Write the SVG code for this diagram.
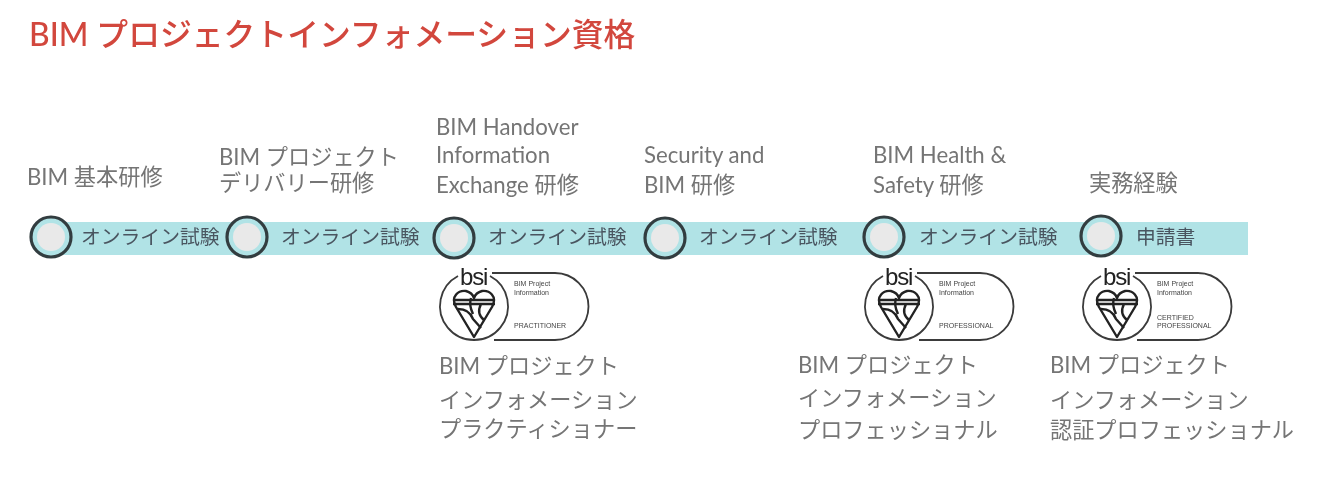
<svg xmlns="http://www.w3.org/2000/svg" xmlns:xlink="http://www.w3.org/1999/xlink" width="1317" height="484" viewBox="0 0 1317 484">
<style>
text{font-family:"Lato","Noto Sans CJK JP",sans-serif}
.t{font-size:22.2px;fill:#747474}
.e{font-size:19.8px;fill:#4a5560}
.title{font-size:31.8px;fill:#d2463c;font-weight:500}
.d{fill:#b1e3e6;stroke:#333d40;stroke-width:3.2}
.n{fill:#e9e9e9;stroke:none}
.b{fill:none;stroke:#3a3a3a;stroke-width:1.8}
.h{fill:none;stroke:#222;stroke-width:2.4;stroke-linejoin:round}
.bsi{font-family:"Liberation Sans",sans-serif;font-size:24px;fill:#222;letter-spacing:-1.2px}
.tiny{font-family:"Liberation Sans",sans-serif;font-size:7px;fill:#444}
</style>
<defs>
<filter id="soft" x="-5%" y="-5%" width="110%" height="110%"><feGaussianBlur stdDeviation="0.5"/></filter>
<g id="badge">
<path class="b" d="M-16 -30A34 34 0 1 0 16 -30"/>
<path class="b" d="M18 -33H81A33 33 0 0 1 81 34H20"/>
<path class="h" d="M0 31L-18 1C-24 -10 -15 -16 -8 -15C-4 -14 -1 -11 0 -8C1 -11 4 -14 8 -15C15 -16 24 -10 18 1Z"/>
<path class="h" d="M-21 -6H21M-21 -2H21M-16 3C-10 3 -4 5 -1 13L7 22M-3 -8C-5 -1 -3 4 -1 8M7 -2C4 4 5 10 10 14"/>
<text class="bsi" x="-14" y="-21">bsi</text>
<text class="tiny" x="40" y="-20">BIM Project</text>
<text class="tiny" x="40" y="-11">Information</text>
</g>
</defs>
<g filter="url(#soft)">
<g id="title"><text class="title" x="29" y="46">BIM プロジェクトインフォメーション資格</text></g>
<g id="connectors"><rect x="51" y="222" width="1197" height="33" fill="#b1e3e6"/></g>
<g id="node-1"><circle class="d" cx="51" cy="237" r="20"/><circle class="n" cx="51" cy="237" r="14"/><text class="e" x="81" y="244">オンライン試験</text><text class="t" x="27" y="185">BIM 基本研修</text></g>
<g id="node-2"><circle class="d" cx="247" cy="237" r="20"/><circle class="n" cx="247" cy="237" r="14"/><text class="e" x="281" y="244">オンライン試験</text><text class="t" x="219" y="165">BIM プロジェクト</text><text class="t" x="219" y="191">デリバリー研修</text></g>
<g id="node-3"><circle class="d" cx="454" cy="238" r="20"/><circle class="n" cx="454" cy="238" r="14"/><text class="e" x="488" y="244">オンライン試験</text><text class="t" x="436" y="135">BIM Handover</text><text class="t" x="436" y="163">Information</text><text class="t" x="436" y="193">Exchange 研修</text>
<use xlink:href="#badge" href="#badge" x="474" y="306"/><text class="tiny" x="514" y="328">PRACTITIONER</text>
<text class="t" x="439" y="374">BIM プロジェクト</text><text class="t" x="439" y="408">インフォメーション</text><text class="t" x="439" y="437">プラクティショナー</text></g>
<g id="node-4"><circle class="d" cx="665" cy="238" r="20"/><circle class="n" cx="665" cy="238" r="14"/><text class="e" x="699" y="244">オンライン試験</text><text class="t" x="644" y="163">Security and</text><text class="t" x="644" y="193">BIM 研修</text></g>
<g id="node-5"><circle class="d" cx="884" cy="237" r="20"/><circle class="n" cx="884" cy="237" r="14"/><text class="e" x="919" y="244">オンライン試験</text><text class="t" x="873" y="163">BIM Health &amp;</text><text class="t" x="873" y="193">Safety 研修</text>
<use xlink:href="#badge" href="#badge" x="899" y="306"/><text class="tiny" x="939" y="328">PROFESSIONAL</text>
<text class="t" x="798" y="373">BIM プロジェクト</text><text class="t" x="798" y="406">インフォメーション</text><text class="t" x="798" y="438">プロフェッショナル</text></g>
<g id="node-6"><circle class="d" cx="1101" cy="236" r="20"/><circle class="n" cx="1101" cy="236" r="14"/><text class="e" x="1136" y="244">申請書</text><text class="t" x="1089" y="191">実務経験</text>
<use xlink:href="#badge" href="#badge" x="1117" y="306"/><text class="tiny" x="1157" y="320">CERTIFIED</text><text class="tiny" x="1157" y="328">PROFESSIONAL</text>
<text class="t" x="1050" y="373">BIM プロジェクト</text><text class="t" x="1050" y="408">インフォメーション</text><text class="t" x="1050" y="438">認証プロフェッショナル</text></g>
</g>
</svg>
